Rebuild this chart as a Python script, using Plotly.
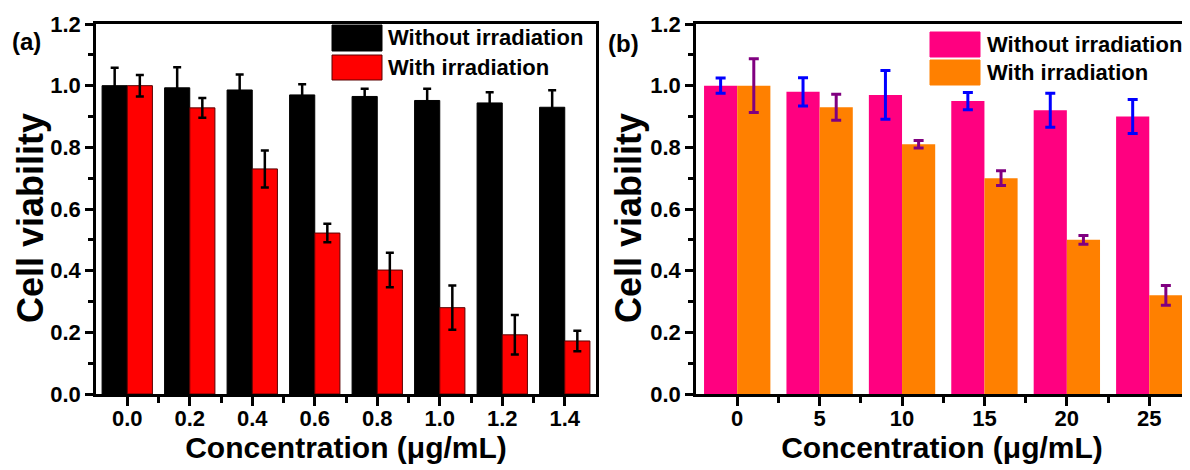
import plotly.graph_objects as go

# ---------------- data ----------------
conc_a = ["0.0", "0.2", "0.4", "0.6", "0.8", "1.0", "1.2", "1.4"]
without_a = [1.00, 0.993, 0.986, 0.970, 0.965, 0.952, 0.944, 0.930]
without_a_err = [0.058, 0.067, 0.050, 0.035, 0.025, 0.038, 0.035, 0.055]
with_a = [1.00, 0.928, 0.730, 0.522, 0.402, 0.280, 0.192, 0.172]
with_a_err = [0.035, 0.032, 0.060, 0.030, 0.056, 0.072, 0.064, 0.033]

conc_b = ["0", "5", "10", "15", "20", "25"]
without_b = [1.00, 0.980, 0.970, 0.950, 0.920, 0.900]
without_b_err = [0.025, 0.046, 0.079, 0.028, 0.055, 0.055]
with_b = [1.00, 0.930, 0.810, 0.700, 0.500, 0.320]
with_b_err = [0.087, 0.042, 0.012, 0.024, 0.014, 0.032]

series_names = ["Without irradiation", "With irradiation"]
y_ticks = [0.0, 0.2, 0.4, 0.6, 0.8, 1.0, 1.2]
y_ticklabels = ["0.0", "0.2", "0.4", "0.6", "0.8", "1.0", "1.2"]
x_title = "Concentration (μg/mL)"
y_title = "Cell viability"

# ---------------- styling ----------------
W, H = 1190, 470
OFF = 8  # page body margin in the browser
FONT = "Liberation Sans"
C_BLACK = "#000000"
C_RED = "#FF0000"
C_PINK = "#FF0080"
C_ORANGE = "#FF8000"
C_BLUE = "#0000FF"
C_PURPLE = "#800080"


def px_x(p):
    return (p - OFF) / W


def px_y(p):
    return (H - (p - OFF)) / H


xa = list(range(len(conc_a)))
xb = list(range(len(conc_b)))

fig = go.Figure()

fig.add_trace(go.Bar(
    x=xa, y=without_a, name=series_names[0], xaxis="x", yaxis="y",
    marker=dict(color=C_BLACK, line=dict(color=C_BLACK, width=1)),
    error_y=dict(type="data", array=without_a_err, color=C_BLACK,
                 thickness=2.5, width=4),
    showlegend=False,
))
fig.add_trace(go.Bar(
    x=xa, y=with_a, name=series_names[1], xaxis="x", yaxis="y",
    marker=dict(color=C_RED, line=dict(color="#5a0000", width=1)),
    error_y=dict(type="data", array=with_a_err, color=C_BLACK,
                 thickness=2.5, width=4),
    showlegend=False,
))
fig.add_trace(go.Bar(
    x=xb, y=without_b, name=series_names[0], xaxis="x2", yaxis="y2",
    marker=dict(color=C_PINK, line=dict(width=0)),
    error_y=dict(type="data", array=without_b_err, color=C_BLUE,
                 thickness=3, width=5),
    showlegend=False,
))
fig.add_trace(go.Bar(
    x=xb, y=with_b, name=series_names[1], xaxis="x2", yaxis="y2",
    marker=dict(color=C_ORANGE, line=dict(width=0)),
    error_y=dict(type="data", array=with_b_err, color=C_PURPLE,
                 thickness=3, width=5),
    showlegend=False,
))

tickfont = dict(family=FONT, size=22, color="black", weight="bold")
titlefont_x = dict(family=FONT, size=30, color="black", weight="bold")
titlefont_y = dict(family=FONT, size=36, color="black", weight="bold")

common_x = dict(
    showline=True, linewidth=2.5, linecolor="black", mirror=True,
    ticks="outside", ticklen=9, tickwidth=2.5, tickcolor="black",
    showgrid=False, zeroline=False, tickfont=tickfont, automargin=False,
    ticklabelstandoff=-6,
    title=dict(text=x_title, font=titlefont_x, standoff=4),
)
common_y = dict(
    showline=True, linewidth=2.5, linecolor="black", mirror=True,
    ticks="outside", ticklen=8, tickwidth=2.5, tickcolor="black",
    showgrid=False, zeroline=False, tickfont=tickfont, automargin=False,
    range=[0, 1.2], tickmode="array", tickvals=y_ticks, ticktext=y_ticklabels,
    minor=dict(ticks="outside", ticklen=5, tickwidth=2.5, tickcolor="black",
               dtick=0.1, tick0=0, showgrid=False),
)

ya_dom = [px_y(394), px_y(24)]

fig.update_layout(
    width=W, height=H,
    margin=dict(l=0, r=0, t=0, b=0, pad=0, autoexpand=False),
    paper_bgcolor="white", plot_bgcolor="white",
    showlegend=False,
    barmode="group", bargap=0.195, bargroupgap=0,
    xaxis=dict(common_x, domain=[px_x(96), px_x(596)], anchor="y",
               range=[-0.5, len(conc_a) - 0.5],
               tickmode="array", tickvals=xa, ticktext=conc_a,
               minor=dict(ticks="outside", ticklen=6, tickwidth=2.5,
                          tickcolor="black", tickmode="array",
                          tickvals=[i + 0.5 for i in xa[:-1]], showgrid=False)),
    yaxis=dict(common_y, domain=ya_dom, anchor="x"),
    xaxis2=dict(common_x, domain=[px_x(696), px_x(1188)], anchor="y2",
                range=[-0.5, len(conc_b) - 0.53],
                tickmode="array", tickvals=xb, ticktext=conc_b,
                minor=dict(ticks="outside", ticklen=6, tickwidth=2.5,
                           tickcolor="black", tickmode="array",
                           tickvals=[i + 0.5 for i in xb[:-1]], showgrid=False)),
    yaxis2=dict(common_y, domain=ya_dom, anchor="x2"),
)

# ---------------- manual legends / labels ----------------
legend_font = dict(family=FONT, size=22, color="black", weight="bold")
shapes = []
annotations = []


def add_legend(x0, ys, colors, borders, text_x):
    for (y0, y1), col, bd, name in zip(ys, colors, borders, series_names):
        shapes.append(dict(type="rect", xref="paper", yref="paper",
                           x0=px_x(x0), x1=px_x(x0 + 50), y0=px_y(y1), y1=px_y(y0),
                           fillcolor=col, line=dict(color=bd, width=1)))
        annotations.append(dict(xref="paper", yref="paper", x=px_x(text_x),
                                y=px_y((y0 + y1) / 2), text=name, showarrow=False,
                                xanchor="left", yanchor="middle", font=legend_font))


add_legend(332, [(25, 51), (55, 80)], [C_BLACK, C_RED], [C_BLACK, "#5a0000"], 386)
add_legend(930, [(32, 57), (60, 85)], [C_PINK, C_ORANGE], [C_PINK, C_ORANGE], 985)

panel_font = dict(family=FONT, size=24, color="black", weight="bold")
for txt, cx, cy in [("(a)", 26, 41), ("(b)", 623, 43)]:
    annotations.append(dict(xref="paper", yref="paper", x=px_x(cx), y=px_y(cy),
                            text=txt, showarrow=False, xanchor="center",
                            yanchor="middle", font=panel_font))

for cx in [30, 628]:
    annotations.append(dict(xref="paper", yref="paper", x=px_x(cx), y=px_y(218),
                            text=y_title, showarrow=False, textangle=-90,
                            xanchor="center", yanchor="middle", font=titlefont_y))

fig.update_layout(shapes=shapes, annotations=annotations)

fig.write_html("out.html")
